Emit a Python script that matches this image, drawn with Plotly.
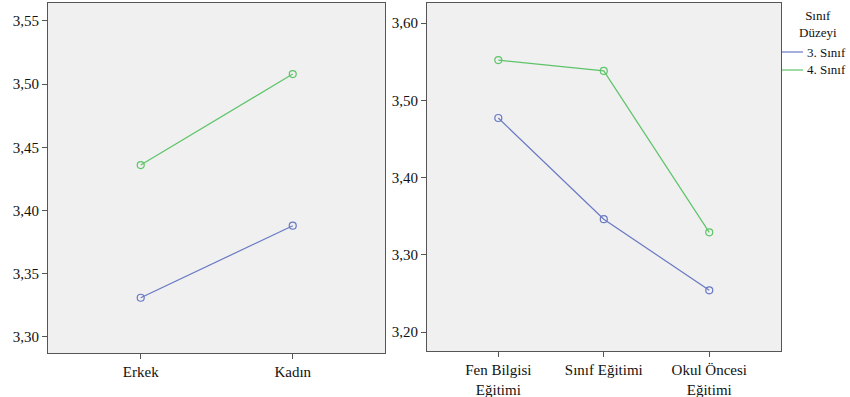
import plotly.graph_objects as go

# Data
gender_cats = ["Erkek", "Kadın"]
gender_s3 = [3.331, 3.388]
gender_s4 = [3.436, 3.508]

dept_cats = ["Fen Bilgisi<br>Eğitimi", "Sınıf Eğitimi", "Okul Öncesi<br>Eğitimi"]
dept_s3 = [3.477, 3.346, 3.254]
dept_s4 = [3.552, 3.538, 3.329]

series_names = ["3. Sınıf", "4. Sınıf"]
legend_title = "Sınıf<br>Düzeyi"
colors = ["#6878C4", "#5EC468"]

W, H = 850, 397
font_family = "Liberation Serif"

fig = go.Figure()

def add_series(x, y, color, xa, ya):
    fig.add_trace(go.Scatter(
        x=x, y=y, mode="lines+markers", xaxis=xa, yaxis=ya,
        line=dict(color=color, width=1.2),
        marker=dict(symbol="circle-open", size=7, color=color, line=dict(width=1.2)),
        showlegend=False, hoverinfo="skip"))

add_series(gender_cats, gender_s3, colors[0], "x", "y")
add_series(gender_cats, gender_s4, colors[1], "x", "y")
add_series(dept_cats, dept_s3, colors[0], "x2", "y2")
add_series(dept_cats, dept_s4, colors[1], "x2", "y2")

axis_common = dict(showline=True, mirror=True, linecolor="#555555", linewidth=1,
                   ticks="outside", ticklen=5, tickcolor="#555555",
                   showgrid=False, zeroline=False,
                   tickfont=dict(family=font_family, size=15, color="#111111"))

# manual legend (outside plot area)
annotations = [dict(text=legend_title, x=818/W, y=1-24/H, xref="paper", yref="paper",
                    xanchor="center", yanchor="middle", showarrow=False, align="center",
                    font=dict(family=font_family, size=13, color="#111111"))]
shapes = []
for i, (name, c) in enumerate(zip(series_names, colors)):
    yy = 1 - (52 + 18 * i) / H
    shapes.append(dict(type="line", xref="paper", yref="paper",
                       x0=782/W, x1=803/W, y0=yy, y1=yy,
                       line=dict(color=c, width=1.2)))
    annotations.append(dict(text=name, x=805/W, y=yy, xref="paper", yref="paper",
                            xanchor="left", yanchor="middle", showarrow=False,
                            font=dict(family=font_family, size=13, color="#111111")))

fig.update_layout(
    width=W, height=H,
    margin=dict(l=0, r=0, t=0, b=0),
    paper_bgcolor="white", plot_bgcolor="#F0F0F0",
    separators=",.",
    showlegend=False,
    font=dict(family=font_family, size=13, color="#111111"),
    xaxis=dict(domain=[48/W, 385/W], anchor="y", type="category",
               range=[-0.61, 1.607], **axis_common),
    yaxis=dict(domain=[1-353/H, 1-3/H], anchor="x",
               range=[3.2873, 3.5642], tickvals=[3.30, 3.35, 3.40, 3.45, 3.50, 3.55],
               tickformat=".2f", **axis_common),
    xaxis2=dict(domain=[427/W, 781/W], anchor="y2", type="category",
                range=[-0.676, 2.68], **axis_common),
    yaxis2=dict(domain=[1-351/H, 1-3/H], anchor="x2",
                range=[3.1754, 3.6259], tickvals=[3.20, 3.30, 3.40, 3.50, 3.60],
                tickformat=".2f", **axis_common),
    annotations=annotations,
    shapes=shapes,
)

fig.write_html("out.html", config={"displayModeBar": False},
               post_script="document.body.style.margin='0';")
